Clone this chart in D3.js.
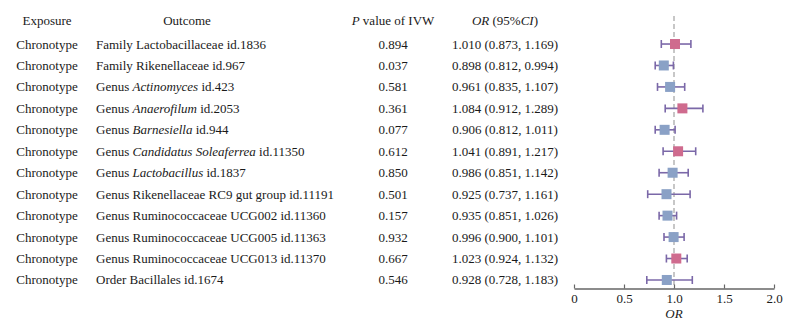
<!DOCTYPE html>
<html>
<head>
<meta charset="utf-8">
<script src="https://cdn.jsdelivr.net/npm/d3@7"></script>
<style>
  body { margin: 0; background: #fff; }
  text { font-family: "Liberation Serif", "Times New Roman", serif; fill: #1a1a1a; }
</style>
</head>
<body>
<svg id="drawing_region"></svg>
<script>
// data
const exposures = Array(12).fill('Chronotype');
const outcomes = [
    [['Family Lactobacillaceae id.1836', false]],
    [['Family Rikenellaceae id.967', false]],
    [['Genus ', false], ['Actinomyces', true], [' id.423', false]],
    [['Genus ', false], ['Anaerofilum', true], [' id.2053', false]],
    [['Genus ', false], ['Barnesiella', true], [' id.944', false]],
    [['Genus ', false], ['Candidatus Soleaferrea', true], [' id.11350', false]],
    [['Genus ', false], ['Lactobacillus', true], [' id.1837', false]],
    [['Genus Rikenellaceae RC9 gut group id.11191', false]],
    [['Genus Ruminococcaceae UCG002 id.11360', false]],
    [['Genus Ruminococcaceae UCG005 id.11363', false]],
    [['Genus Ruminococcaceae UCG013 id.11370', false]],
    [['Order Bacillales id.1674', false]]
];
const pvalues = ['0.894', '0.037', '0.581', '0.361', '0.077', '0.612', '0.850', '0.501', '0.157', '0.932', '0.667', '0.546'];
const or_est = [1.010, 0.898, 0.961, 1.084, 0.906, 1.041, 0.986, 0.925, 0.935, 0.996, 1.023, 0.928];
const ci_low = [0.873, 0.812, 0.835, 0.912, 0.812, 0.891, 0.851, 0.737, 0.851, 0.900, 0.924, 0.728];
const ci_high = [1.169, 0.994, 1.107, 1.289, 1.011, 1.217, 1.142, 1.161, 1.026, 1.101, 1.132, 1.183];
const x_ticks = [0, 0.5, 1.0, 1.5, 2.0];
const x_tick_labels = ['0', '0.5', '1.0', '1.5', '2.0'];

const data = or_est.map((d, i) => ({
    idx: i,
    exposure: exposures[i],
    outcome: outcomes[i],
    p: pvalues[i],
    or: d,
    lo: ci_low[i],
    hi: ci_high[i]
}));

const width = 792, height = 329;
const svg = d3.select('#drawing_region')
    .attr('width', width)
    .attr('height', height);

const xscale = d3.scaleLinear()
    .domain([0, 2])
    .range([574, 774]);

const yscale = d3.scaleBand()
    .domain(data.map(d => d.idx))
    .range([33.3, 290.7]);

const yc = i => yscale(i) + yscale.bandwidth() / 2;
const font_size = '13px';
const header_y = 25;

// headers
const headers = [
    {x: 47, parts: [['Exposure', false]]},
    {x: 187, parts: [['Outcome', false]]},
    {x: 393, parts: [['P', true], [' value of IVW', false]]},
    {x: 505, parts: [['OR', true], [' (95%', false], ['CI', true], [')', false]]}
];
headers.forEach(h => {
    const t = svg.append('text')
        .attr('x', h.x)
        .attr('y', header_y)
        .attr('text-anchor', 'middle')
        .style('font-size', font_size);
    h.parts.forEach(p => t.append('tspan')
        .style('font-style', p[1] ? 'italic' : 'normal')
        .text(p[0]));
});

// table columns
const rows = svg.append('g');
rows.selectAll('.exp')
    .data(data)
    .enter()
    .append('text')
    .attr('x', 47)
    .attr('y', d => yc(d.idx) + 4.5)
    .attr('text-anchor', 'middle')
    .style('font-size', font_size)
    .text(d => d.exposure);

rows.selectAll('.out')
    .data(data)
    .enter()
    .append('text')
    .attr('x', 96)
    .attr('y', d => yc(d.idx) + 4.5)
    .style('font-size', font_size)
    .each(function(d) {
        const t = d3.select(this);
        d.outcome.forEach(p => t.append('tspan')
            .style('font-style', p[1] ? 'italic' : 'normal')
            .text(p[0]));
    });

rows.selectAll('.pv')
    .data(data)
    .enter()
    .append('text')
    .attr('x', 393)
    .attr('y', d => yc(d.idx) + 4.5)
    .attr('text-anchor', 'middle')
    .style('font-size', font_size)
    .text(d => d.p);

rows.selectAll('.ci')
    .data(data)
    .enter()
    .append('text')
    .attr('x', 505)
    .attr('y', d => yc(d.idx) + 4.5)
    .attr('text-anchor', 'middle')
    .style('font-size', font_size)
    .text(d => `${d.or.toFixed(3)} (${d.lo.toFixed(3)}, ${d.hi.toFixed(3)})`);

// reference line at OR = 1
const axis_y = 288.5;
svg.append('line')
    .attr('x1', xscale(1)).attr('x2', xscale(1))
    .attr('y1', 16).attr('y2', axis_y)
    .attr('stroke', '#b5b5b5')
    .attr('stroke-width', 1.5)
    .attr('stroke-dasharray', '5,3');

// error bars
const bar_color = '#7b68a8';
const cap = 4;
const plot = svg.append('g');
plot.selectAll('.bar')
    .data(data)
    .enter()
    .append('line')
    .attr('x1', d => xscale(d.lo))
    .attr('x2', d => xscale(d.hi))
    .attr('y1', d => yc(d.idx))
    .attr('y2', d => yc(d.idx))
    .attr('stroke', bar_color)
    .attr('stroke-width', 1.6);

['lo', 'hi'].forEach(k => {
    plot.selectAll('.cap_' + k)
        .data(data)
        .enter()
        .append('line')
        .attr('x1', d => xscale(d[k]))
        .attr('x2', d => xscale(d[k]))
        .attr('y1', d => yc(d.idx) - cap)
        .attr('y2', d => yc(d.idx) + cap)
        .attr('stroke', bar_color)
        .attr('stroke-width', 1.6);
});

const sq = 10;
plot.selectAll('rect')
    .data(data)
    .enter()
    .append('rect')
    .attr('x', d => xscale(d.or) - sq / 2)
    .attr('y', d => yc(d.idx) - sq / 2)
    .attr('width', sq)
    .attr('height', sq)
    .attr('fill', d => d.or > 1 ? '#cf6b8e' : '#8aa1c6');

// x axis
const xaxis = d3.axisTop(xscale)
    .tickValues(x_ticks)
    .tickFormat((d, i) => x_tick_labels[i])
    .tickSize(4)
    .tickSizeOuter(0);

const xaxis_group = svg.append('g')
    .attr('transform', `translate(0, ${axis_y})`)
    .call(xaxis);

xaxis_group.select('.domain')
    .attr('stroke', '#666')
    .attr('stroke-width', 1.5);
xaxis_group.selectAll('.tick line')
    .attr('stroke', '#666')
    .attr('stroke-width', 1.2);
xaxis_group.selectAll('.tick text')
    .attr('y', 14.5)
    .attr('dy', 0)
    .style('font-size', font_size)
    .style('font-family', '"Liberation Serif", serif')
    .attr('fill', '#1a1a1a');

svg.append('text')
    .attr('x', xscale(1))
    .attr('y', 318)
    .attr('text-anchor', 'middle')
    .style('font-size', font_size)
    .style('font-style', 'italic')
    .text('OR');
</script>
</body>
</html>
